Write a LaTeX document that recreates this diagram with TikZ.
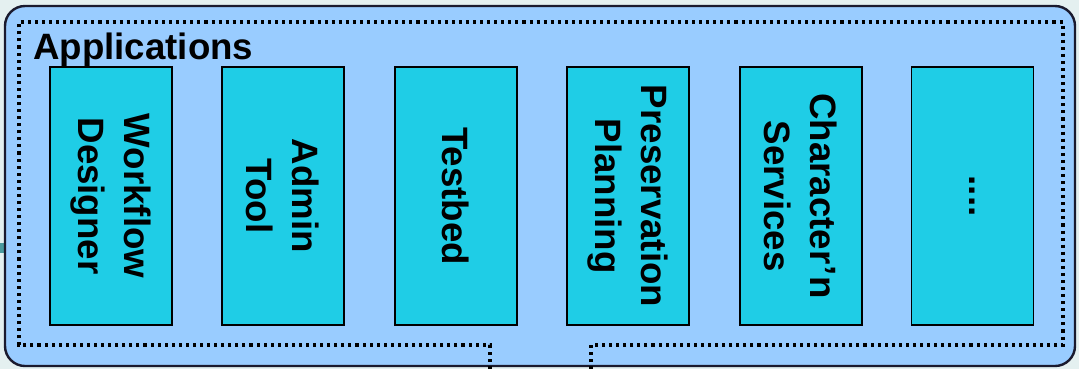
\documentclass[tikz,border=0pt]{standalone}
\usepackage{fontspec}
\setmainfont{Liberation Sans}
\definecolor{pagebg}{HTML}{E4F0F0}
\definecolor{appsbg}{HTML}{99CCFF}
\definecolor{appcyan}{HTML}{1FCDE6}
\definecolor{frameedge}{HTML}{1A1A2E}
\definecolor{stub}{HTML}{4A9A9E}
\tikzset{
	appbox/.style={draw=black, line width=1.4pt, fill=appcyan, rotate=-90,
		minimum width=193.5pt, minimum height=91.5pt, align=center,
		font=\bfseries\fontsize{27.5}{34.5}\selectfont, inner sep=0pt},
	dotframe/.style={draw=black, line width=2.3pt, dash pattern=on 2.3pt off 3pt}
}
\begin{document}
\begin{tikzpicture}[x=0.75pt,y=-0.75pt]
	\fill[pagebg] (0,0) rectangle (1079,369);
	\useasboundingbox (0,0) rectangle (1079,369);
	\fill[stub] (0,243) rectangle (4,253);
	\filldraw[fill=appsbg, draw=frameedge, line width=1.8pt, rounded corners=15pt]
	(5,6) rectangle (1075,366);
	\draw[dotframe] (490,369) -- (490,345) -- (19,345) -- (19,22) -- (1063,22) -- (1063,345) -- (591,345) -- (591,369);
	\node[anchor=base west, font=\bfseries\fontsize{27.5}{33}\selectfont, inner sep=0pt] (apps) at (33,59) {Applications};
	\node[appbox] (wf) at (111,196) {Workflow\\Designer};
	\node[appbox] (admin) at (283,196) {Admin\\Tool};
	\node[appbox] (testbed) at (456,196) {Testbed};
	\node[appbox] (pp) at (628,196) {Preservation\\Planning};
	\node[appbox] (charn) at (801,196) {Character'n\\Services};
	\node[appbox] (more) at (972.5,196) {....};
\end{tikzpicture}
\end{document}
